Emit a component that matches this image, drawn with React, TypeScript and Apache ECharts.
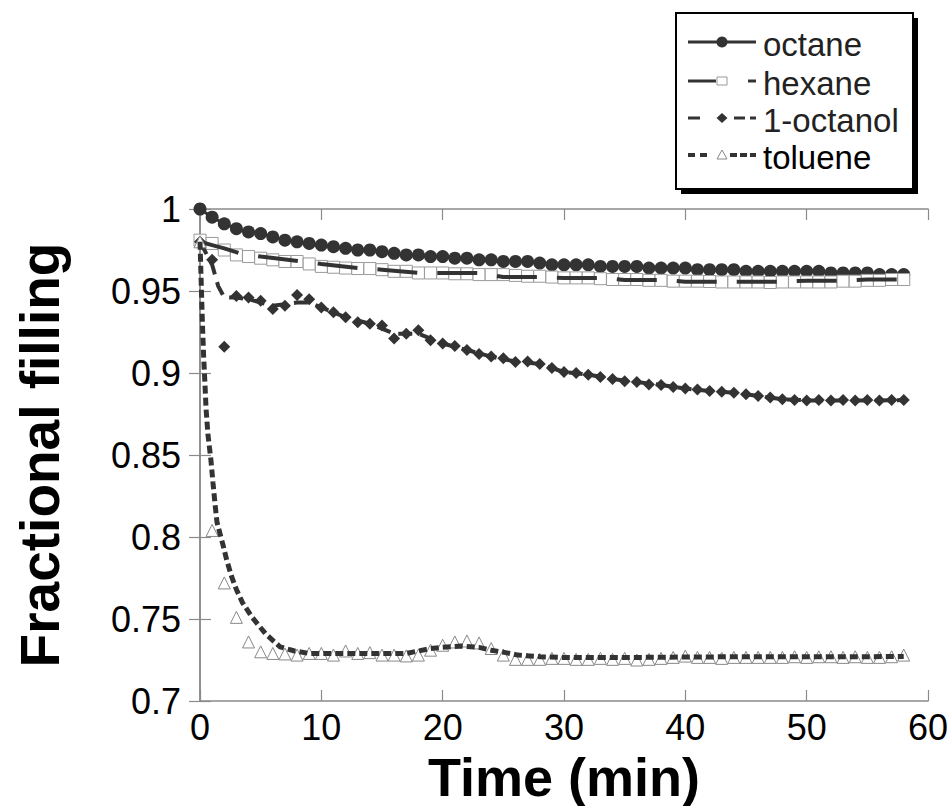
import React, { useEffect, useRef } from "react";
import * as echarts from "echarts";

// time (min) of each measurement
const times = [0,1,2,3,4,5,6,7,8,9,10,11,12,13,14,15,16,17,18,19,20,21,22,23,24,25,26,27,28,29,30,31,32,33,34,35,36,37,38,39,40,41,42,43,44,45,46,47,48,49,50,51,52,53,54,55,56,57,58];

const octane = [1.000,0.995,0.991,0.988,0.986,0.985,0.983,0.981,0.980,0.979,0.978,0.977,0.976,0.975,0.975,0.974,0.973,0.972,0.972,0.971,0.971,0.970,0.970,0.969,0.969,0.968,0.968,0.968,0.967,0.966,0.966,0.966,0.966,0.965,0.965,0.965,0.965,0.964,0.964,0.964,0.964,0.963,0.963,0.963,0.963,0.962,0.962,0.962,0.962,0.962,0.962,0.962,0.961,0.961,0.961,0.961,0.960,0.960,0.960];

const hexane = [0.981,0.979,0.975,0.972,0.971,0.970,0.969,0.968,0.968,0.9665,0.965,0.9645,0.964,0.9637,0.9637,0.963,0.962,0.962,0.961,0.961,0.961,0.9605,0.9605,0.960,0.960,0.960,0.9595,0.959,0.959,0.9585,0.958,0.958,0.958,0.9575,0.957,0.957,0.957,0.9565,0.9565,0.956,0.956,0.956,0.9558,0.9555,0.9555,0.9555,0.9555,0.9552,0.9555,0.9555,0.9555,0.9555,0.9555,0.956,0.956,0.9565,0.9565,0.957,0.957];

const octanol = [0.980,0.969,0.916,0.947,0.946,0.944,0.939,0.941,0.9476,0.945,0.940,0.937,0.934,0.931,0.930,0.929,0.921,0.924,0.926,0.920,0.918,0.9165,0.914,0.9116,0.910,0.909,0.9067,0.907,0.9055,0.903,0.9006,0.900,0.899,0.8976,0.8963,0.895,0.8945,0.893,0.8927,0.8915,0.8905,0.890,0.889,0.8885,0.888,0.887,0.886,0.885,0.884,0.8835,0.8832,0.8835,0.8832,0.8835,0.8832,0.8835,0.8832,0.8835,0.8835];

const toluene = [0.980,0.804,0.772,0.751,0.736,0.730,0.729,0.7287,0.728,0.729,0.729,0.728,0.7305,0.729,0.7295,0.728,0.728,0.7275,0.728,0.731,0.734,0.736,0.7366,0.7354,0.732,0.728,0.7254,0.7254,0.7254,0.726,0.726,0.7254,0.7254,0.726,0.7254,0.726,0.725,0.7254,0.726,0.7266,0.7274,0.7266,0.7266,0.726,0.7266,0.7266,0.7266,0.7266,0.7266,0.727,0.7266,0.727,0.727,0.7266,0.727,0.7266,0.7266,0.727,0.728];

// trend lines (drawn separately from the markers, as in the original)
const hexaneLineT = [0,1,2,3.3,5,8.4,10,13,15,18,20,23,25,28,30,33,35,38,40,48,50,53,55,58];
const hexaneLineV = [0.980,0.978,0.976,0.973,0.971,0.968,0.9665,0.964,0.963,0.961,0.961,0.961,0.9585,0.9585,0.958,0.958,0.9567,0.9567,0.9557,0.9557,0.9563,0.9563,0.957,0.957];

const octanolLineT = [0,1,1.5,2,3,4,5,6,7,8,9,10,12,14,16,18,20,22,24,26,28,30,32,34,36,38,40,42,44,46,48,50,52,54,56,58];
const octanolLineV = [0.98,0.966,0.953,0.946,0.946,0.945,0.943,0.941,0.942,0.943,0.943,0.940,0.934,0.930,0.924,0.924,0.918,0.914,0.910,0.907,0.9055,0.9006,0.899,0.8963,0.8945,0.8927,0.8905,0.889,0.888,0.886,0.884,0.8833,0.8833,0.8833,0.8833,0.8835];

const tolueneLineT = [0,0.1,0.2,0.3,0.41,0.5,0.66,0.9,1.07,1.24,1.4,1.9,2.2,2.6,3.0,3.5,4.3,5.4,6.6,7.8,9,12,15,17,18,19,20,21.5,23,24,25.2,26.2,28,30,35,40,45,50,55,58];
const tolueneLineV = [0.98,0.955,0.93,0.91,0.893,0.878,0.862,0.847,0.833,0.82,0.809,0.795,0.786,0.776,0.768,0.76,0.751,0.741,0.733,0.7305,0.729,0.729,0.729,0.729,0.7305,0.732,0.7327,0.7335,0.7327,0.731,0.7295,0.728,0.727,0.7265,0.7265,0.7268,0.727,0.727,0.727,0.7272];

const xTicks = { min: 0, max: 60, interval: 10 };
const yTicks = { min: 0.7, max: 1, interval: 0.05 };

const legendNames = ["octane", "hexane", "1-octanol", "toluene"];

const FONT = "'Liberation Sans', Arial, Helvetica, sans-serif";
const DARK = "#333333";
const AXIS = "#8a8a8a";

const pairs = (t: number[], v: number[]) => t.map((x, i) => [x, v[i]]);

export default function App() {
  const ref = useRef<HTMLDivElement>(null);
  useEffect(() => {
    const chart = echarts.init(ref.current!, null, { renderer: "svg" });

    const axisCommon = {
      axisLine: { show: true, lineStyle: { color: AXIS, width: 1.5 } },
      axisTick: { show: true, inside: true, length: 11, lineStyle: { color: AXIS, width: 1.2 } },
      splitLine: { show: false },
    };

    const rows = [42, 81, 118, 155];
    const lx1 = 688, lx2 = 756, lc = 722;
    const seg = (x1: number, x2: number, y: number, w = 3) => ({
      type: "line", z: 101, shape: { x1, y1: y, x2, y2: y }, style: { stroke: DARK, lineWidth: w },
    });

    const legendGraphics: any[] = [
      { type: "rect", z: 100, shape: { x: 681, y: 18, width: 237, height: 176 }, style: { fill: "#000" } },
      { type: "rect", z: 100, shape: { x: 676, y: 13, width: 237, height: 176 }, style: { fill: "#fff", stroke: "#000", lineWidth: 2 } },
      // octane
      seg(lx1, lx2, rows[0]),
      { type: "circle", z: 102, shape: { cx: lc, cy: rows[0], r: 5.5 }, style: { fill: DARK } },
      // hexane
      seg(lx1, 716, rows[1]),
      seg(748, lx2, rows[1]),
      { type: "rect", z: 102, shape: { x: 717, y: rows[1] - 4, width: 10, height: 8 }, style: { fill: "#fff", stroke: "#999", lineWidth: 1 } },
      // 1-octanol
      seg(lx1, 700, rows[2]),
      seg(734, 745, rows[2]),
      seg(750, lx2, rows[2]),
      { type: "polygon", z: 102, shape: { points: [[lc - 5.5, rows[2]], [lc, rows[2] - 5], [lc + 5.5, rows[2]], [lc, rows[2] + 5]] }, style: { fill: DARK } },
      // toluene
      seg(lx1, 695, rows[3], 4),
      seg(700, 707, rows[3], 4),
      seg(730, 737, rows[3], 4),
      seg(740, 747, rows[3], 4),
      seg(750, lx2, rows[3], 4),
      { type: "polygon", z: 102, shape: { points: [[lc - 5, rows[3] + 4], [lc, rows[3] - 5], [lc + 5, rows[3] + 4]] }, style: { fill: "#fff", stroke: "#888", lineWidth: 1 } },
    ];
    legendNames.forEach((name, i) => {
      legendGraphics.push({
        type: "text", z: 103, x: 763, y: rows[i] + 2,
        style: { text: name, fontSize: 33, fontFamily: FONT, fill: i === 3 ? "#000" : "#222", verticalAlign: "middle", align: "left" },
      });
    });

    const option: any = {
      animation: false,
      backgroundColor: "#fff",
      grid: { left: 200, top: 209, width: 728, height: 492, containLabel: false, outerBoundsMode: "none" },
      xAxis: [
        {
          type: "value", position: "bottom", ...xTicks, ...axisCommon,
          axisLabel: { show: true, fontSize: 36, fontFamily: FONT, color: "#000", margin: 8 },
          name: "Time (min)", nameLocation: "middle", nameGap: 30,
          nameTextStyle: { fontSize: 54, fontWeight: "bold", fontFamily: FONT, color: "#000" },
        },
        { type: "value", position: "top", ...xTicks, ...axisCommon, axisLabel: { show: false } },
      ],
      yAxis: [
        {
          type: "value", position: "left", ...yTicks, ...axisCommon,
          axisLabel: {
            show: true, fontSize: 36, fontFamily: FONT, color: "#000", margin: 19,
            formatter: (v: number) => String(Math.round(v * 100) / 100),
          },
          name: "Fractional filling", nameLocation: "middle", nameGap: 133, nameRotate: 90,
          nameTextStyle: { fontSize: 55, fontWeight: "bold", fontFamily: FONT, color: "#000" },
        },
        { type: "value", position: "right", ...yTicks, ...axisCommon, axisLabel: { show: false } },
      ],
      series: [
        {
          name: "octane-line", type: "line", data: pairs(times, octane), showSymbol: false,
          lineStyle: { color: DARK, width: 3 }, z: 2,
        },
        {
          name: "octane", type: "scatter", data: pairs(times, octane), symbol: "circle", symbolSize: 13,
          itemStyle: { color: DARK, opacity: 1 }, z: 3,
        },
        {
          name: "hexane", type: "scatter", data: pairs(times, hexane), symbol: "rect", symbolSize: 12,
          itemStyle: { color: "#fff", borderColor: "#9a9a9a", borderWidth: 1, opacity: 1 }, z: 4,
        },
        {
          name: "hexane-line", type: "line", data: pairs(hexaneLineT, hexaneLineV), showSymbol: false,
          lineStyle: { color: DARK, width: 4, type: [40, 20] }, z: 5,
        },
        {
          name: "1-octanol", type: "scatter", data: pairs(times, octanol), symbol: "diamond", symbolSize: 12,
          itemStyle: { color: DARK, opacity: 1 }, z: 6,
        },
        {
          name: "octanol-line", type: "line", data: pairs(octanolLineT, octanolLineV), showSymbol: false,
          lineStyle: { color: DARK, width: 4, type: [14, 8] }, z: 7,
        },
        {
          name: "toluene", type: "scatter", data: pairs(times, toluene), symbol: "triangle", symbolSize: 12,
          itemStyle: { color: "#fff", borderColor: "#888", borderWidth: 1, opacity: 1 }, z: 8,
        },
        {
          name: "toluene-line", type: "line", data: pairs(tolueneLineT, tolueneLineV), showSymbol: false,
          lineStyle: { color: DARK, width: 5, type: [8, 4] }, z: 9,
        },
      ],
      graphic: legendGraphics,
    };

    chart.setOption(option);
    return () => chart.dispose();
  }, []);

  return (
    <div
      ref={ref}
      style={{ position: "absolute", left: 0, top: 0, width: 952, height: 806, background: "#fff" }}
    />
  );
}
